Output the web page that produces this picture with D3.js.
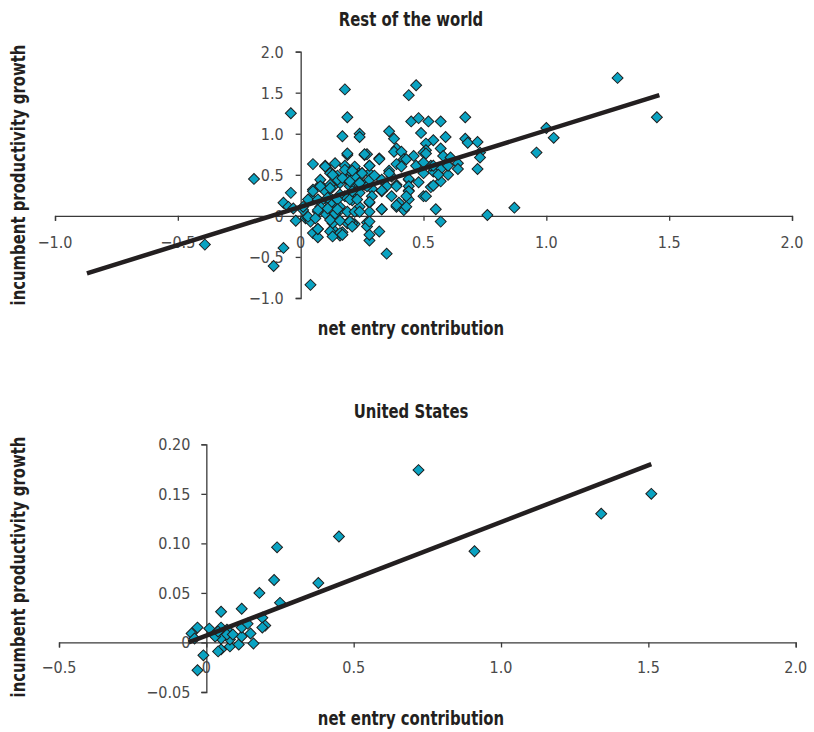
<!DOCTYPE html>
<html>
<head>
<meta charset="utf-8">
<script src="https://cdn.jsdelivr.net/npm/d3@7"></script>
<style>
  html, body { margin: 0; padding: 0; background: #fff; }
  svg { display: block; }
  text { font-family: "Liberation Sans Narrow", "Arial Narrow", "DejaVu Sans Condensed", sans-serif; font-stretch: condensed; }
  .title, .axis-title { font-weight: bold; fill: #231f20; font-size: 19px; }
  .tick-label { fill: #4a4a4a; font-size: 16px; }
  .axis-line { stroke: #3a3a3a; stroke-width: 1.3; fill: none; }
</style>
</head>
<body>
<svg id="chart" width="814" height="732"></svg>
<script>
// Rest of the world: [net entry contribution, incumbent productivity growth]
const restOfWorld = [
  [0.18,1.54],[-0.04,1.25],[0.19,1.20],[0.17,0.97],[0.24,1.00],[0.24,0.96],[0.36,1.03],[0.38,0.94],
  [0.39,0.82],[0.38,0.78],[0.19,0.74],[0.26,0.74],[0.32,0.70],[0.44,1.47],[0.47,1.59],[0.45,1.15],
  [0.48,1.19],[0.52,1.15],[0.57,1.15],[0.67,1.20],[0.49,1.01],[0.59,0.96],[0.54,0.92],[0.51,0.88],
  [0.51,0.80],[0.50,0.77],[0.67,0.94],[0.68,0.89],[0.72,0.90],[0.57,0.82],[0.73,0.77],[0.46,0.73],
  [0.41,0.78],[0.58,0.73],[0.61,0.71],[0.73,0.71],[0.96,0.77],[1.29,1.68],[1.45,1.20],[1.00,1.07],
  [1.03,0.95],[0.87,0.10],[0.76,0.01],[0.57,-0.07],[0.55,0.08],[0.72,0.57],[0.64,0.64],[0.64,0.57],
  [0.60,0.50],[0.57,0.42],[0.57,0.57],[0.54,0.54],[0.53,0.35],[0.50,0.24],[0.48,0.41],[0.50,0.52],
  [0.47,0.61],[0.42,0.69],[0.44,0.44],[0.44,0.31],[0.44,0.20],[0.42,0.08],[0.53,0.61],[0.54,0.61],
  [0.27,0.75],[0.32,0.69],[0.28,0.61],[0.25,0.52],[0.39,0.63],[0.43,0.69],[0.51,0.76],[0.50,0.65],
  [0.60,0.61],[0.56,0.50],[0.36,0.55],[0.37,0.48],[0.35,0.36],[0.33,0.30],[0.39,0.38],[0.44,0.45],
  [0.44,0.36],[0.44,0.30],[0.43,0.24],[0.40,0.16],[0.42,0.07],[0.39,0.11],[0.51,0.24],[0.54,0.37],
  [0.28,0.16],[0.24,0.11],[0.33,0.08],[0.28,0.05],[0.27,-0.08],[0.32,-0.19],[0.28,-0.30],[0.35,-0.46],
  [0.25,0.37],[0.29,0.33],[0.22,0.26],
  [-0.19,0.45],[-0.39,-0.35],[-0.07,-0.39],[-0.11,-0.61],[0.04,-0.84],[0.05,0.63],[-0.04,0.28],[-0.07,0.16],
  [-0.05,0.11],[-0.02,-0.06],[-0.03,0.09],[0.05,-0.21],[0.07,-0.26],[0.16,-0.24],[0.17,-0.20],[0.13,-0.16],
  [0.02,-0.03],[0.10,0.03],[0.15,-0.03],[0.19,0.76],[0.10,0.61],[0.14,0.64],[0.18,0.61],[0.12,0.54],
  [0.15,0.49],[0.20,0.52],[0.22,0.57],[0.05,0.32],[0.08,0.38],[0.10,0.30],[0.13,0.35],[0.16,0.40],
  [0.19,0.44],[0.22,0.40],[0.04,0.22],[0.08,0.17],[0.12,0.22],[0.14,0.15],[0.18,0.24],[0.21,0.19],
  [0.16,0.07],[0.19,0.05],[0.22,0.05],[0.07,0.05],[0.19,-0.09],[0.22,-0.10],[0.13,-0.09],[0.01,0.07],
  [0.27,-0.13],[0.16,-0.21],[0.07,-0.16],[0.21,-0.09],[0.03,-0.03],[0.33,0.08],[0.05,0.20],[0.08,0.11],
  [0.04,-0.07],[0.12,0.15],[0.14,0.03],[0.16,0.26],[0.16,0.11],[0.20,0.20],[0.20,0.36],[0.24,0.48],
  [0.24,0.28],[0.26,0.38],[0.28,0.52],[0.27,0.36],[0.29,0.24],[0.33,0.44],[0.33,0.31],[0.36,0.52],
  [0.39,0.36],[0.37,0.24],[0.41,0.60],[0.39,0.13],[0.43,0.11],[0.22,0.60],[0.18,0.56],[0.15,0.44],
  [0.12,0.38],[0.08,0.44],[0.12,0.52],[0.22,0.48],[0.10,0.60],
  [0.26,0.75],[0.10,0.60],[0.21,0.55],[0.25,0.52],[0.28,0.61],[0.13,0.50],[0.17,0.46],[0.20,0.42],
  [0.24,0.40],[0.28,0.44],[0.30,0.49],[0.08,0.36],[0.12,0.34],[0.21,0.30],[0.05,0.30],[0.03,0.20],
  [0.07,0.20],[0.11,0.22],[0.15,0.20],[0.23,0.20],[0.28,0.17],[0.07,0.07],[0.11,0.09],[0.15,0.08],
  [0.24,0.05],[0.03,-0.01],[0.06,-0.03],[0.12,-0.05],[0.16,-0.06],[0.20,-0.07],[0.28,-0.07],[0.07,-0.16],
  [0.12,-0.19],[0.21,-0.13],[0.13,-0.25],[0.17,-0.23],[0.28,-0.23],[0.01,0.11]
];

// United States: [net entry contribution, incumbent productivity growth]
const unitedStates = [
  [0.72,0.174],[0.91,0.092],[1.34,0.130],[1.51,0.150],[0.45,0.107],[0.38,0.060],[0.24,0.096],[0.23,0.063],
  [0.25,0.040],[0.18,0.050],[0.19,0.025],[0.20,0.017],[0.19,0.015],[0.12,0.034],[0.05,0.031],[0.01,0.014],
  [-0.03,0.015],[-0.05,0.009],[-0.04,0.004],[-0.01,-0.013],[-0.03,-0.028],[0.05,-0.007],[0.04,-0.009],
  [0.08,-0.004],[0.11,-0.002],[0.16,-0.001],[0.12,0.006],[0.15,0.009],[0.08,0.003],[0.05,0.004],
  [0.03,0.006],[0.05,0.015],[0.07,0.013],[0.12,0.015],[0.14,0.019],[0.07,0.008],[0.09,0.008],[0.04,0.011]
];

// Fitted trend lines, given by their two end points
const restOfWorldTrend = [[-0.87, -0.70], [1.46, 1.47]];
const unitedStatesTrend = [[-0.06, 0.0], [1.51, 0.18]];

// Axis ticks
const rowXTicks = [-1.0, -0.5, 0, 0.5, 1.0, 1.5, 2.0];
const rowYTicks = [-1.0, -0.5, 0, 0.5, 1.0, 1.5, 2.0];
const usXTicks = [-0.5, 0, 0.5, 1.0, 1.5, 2.0];
const usYTicks = [-0.05, 0, 0.05, 0.10, 0.15, 0.20];

const svg = d3.select("#chart");
const NARROW = 0.87; // horizontal squeeze for the bold condensed headings

const fmt1 = v => v === 0 ? "0" : (v < 0 ? "\u2212" : "") + d3.format(".1f")(Math.abs(v));
const fmt2 = v => v === 0 ? "0" : (v < 0 ? "\u2212" : "") + d3.format(".2f")(Math.abs(v));

function panel(cfg) {
  const g = svg.append("g");
  const x = d3.scaleLinear().domain(cfg.xDomain).range(cfg.xRange);
  const y = d3.scaleLinear().domain(cfg.yDomain).range(cfg.yRange);

  // title
  g.append("text").attr("class", "title")
    .attr("transform", `translate(${cfg.titleX},${cfg.titleY}) scale(${NARROW},1)`)
    .attr("text-anchor", "middle").text(cfg.title);

  // x axis through y = 0
  const xAxis = d3.axisBottom(x).tickValues(cfg.xTicks).tickSize(5).tickFormat("");
  const xg = g.append("g").attr("transform", `translate(0,${y(0)})`).call(xAxis);
  xg.select(".domain").attr("class", "axis-line");
  xg.selectAll(".tick line").attr("stroke", "#3a3a3a").attr("stroke-width", 1.3);
  g.selectAll(".xlab").data(cfg.xTicks).join("text")
    .attr("class", "tick-label")
    .attr("x", d => x(d)).attr("y", y(0) + cfg.xLabelOffset)
    .attr("text-anchor", "middle").text(cfg.xFmt);

  // y axis through x = 0
  const yAxis = d3.axisLeft(y).tickValues(cfg.yTicks).tickSize(5).tickFormat("");
  const yg = g.append("g").attr("transform", `translate(${x(0)},0)`).call(yAxis);
  yg.select(".domain").attr("class", "axis-line");
  yg.selectAll(".tick line").attr("stroke", "#3a3a3a").attr("stroke-width", 1.3);
  g.selectAll(".ylab").data(cfg.yTicks).join("text")
    .attr("class", "tick-label")
    .attr("x", x(0) - cfg.yLabelOffset).attr("y", d => y(d) + 6)
    .attr("text-anchor", "end").text(cfg.yFmt);

  // axis titles
  g.append("text").attr("class", "axis-title")
    .attr("transform", `translate(${cfg.xTitleX},${cfg.xTitleY}) scale(${NARROW},1)`)
    .attr("text-anchor", "middle").text("net entry contribution");
  g.append("text").attr("class", "axis-title")
    .attr("transform", `translate(25,${cfg.yTitleY}) rotate(-90) scale(${NARROW},1)`)
    .attr("text-anchor", "middle").text("incumbent productivity growth");

  // scatter points (diamonds)
  const diamond = d3.symbol().type(d3.symbolSquare).size(60);
  g.append("g").selectAll("path").data(cfg.points).join("path")
    .attr("d", diamond)
    .attr("transform", d => `translate(${x(d[0])},${y(d[1])}) rotate(45)`)
    .attr("fill", "#0aa3c2")
    .attr("stroke", "#1e1e1e")
    .attr("stroke-width", 1);

  // trend line
  g.append("path").datum(cfg.trend)
    .attr("d", d3.line().x(d => x(d[0])).y(d => y(d[1])))
    .attr("stroke", "#231f20").attr("stroke-width", 4.5).attr("fill", "none");
}

panel({
  title: "Rest of the world", titleX: 411, titleY: 26,
  xDomain: [-1, 2], xRange: [55, 792],
  yDomain: [-1, 2], yRange: [298, 51.6],
  xTicks: rowXTicks, yTicks: rowYTicks, xFmt: fmt1, yFmt: fmt1,
  xLabelOffset: 32, yLabelOffset: 17,
  xTitleX: 411, xTitleY: 335, yTitleY: 175,
  points: restOfWorld, trend: restOfWorldTrend
});

panel({
  title: "United States", titleX: 411, titleY: 418,
  xDomain: [-0.5, 2], xRange: [59, 795.7],
  yDomain: [-0.05, 0.2], yRange: [692, 444.3],
  xTicks: usXTicks, yTicks: usYTicks, xFmt: fmt1, yFmt: fmt2,
  xLabelOffset: 31, yLabelOffset: 16,
  xTitleX: 411, xTitleY: 725, yTitleY: 567,
  points: unitedStates, trend: unitedStatesTrend
});
</script>
</body>
</html>
